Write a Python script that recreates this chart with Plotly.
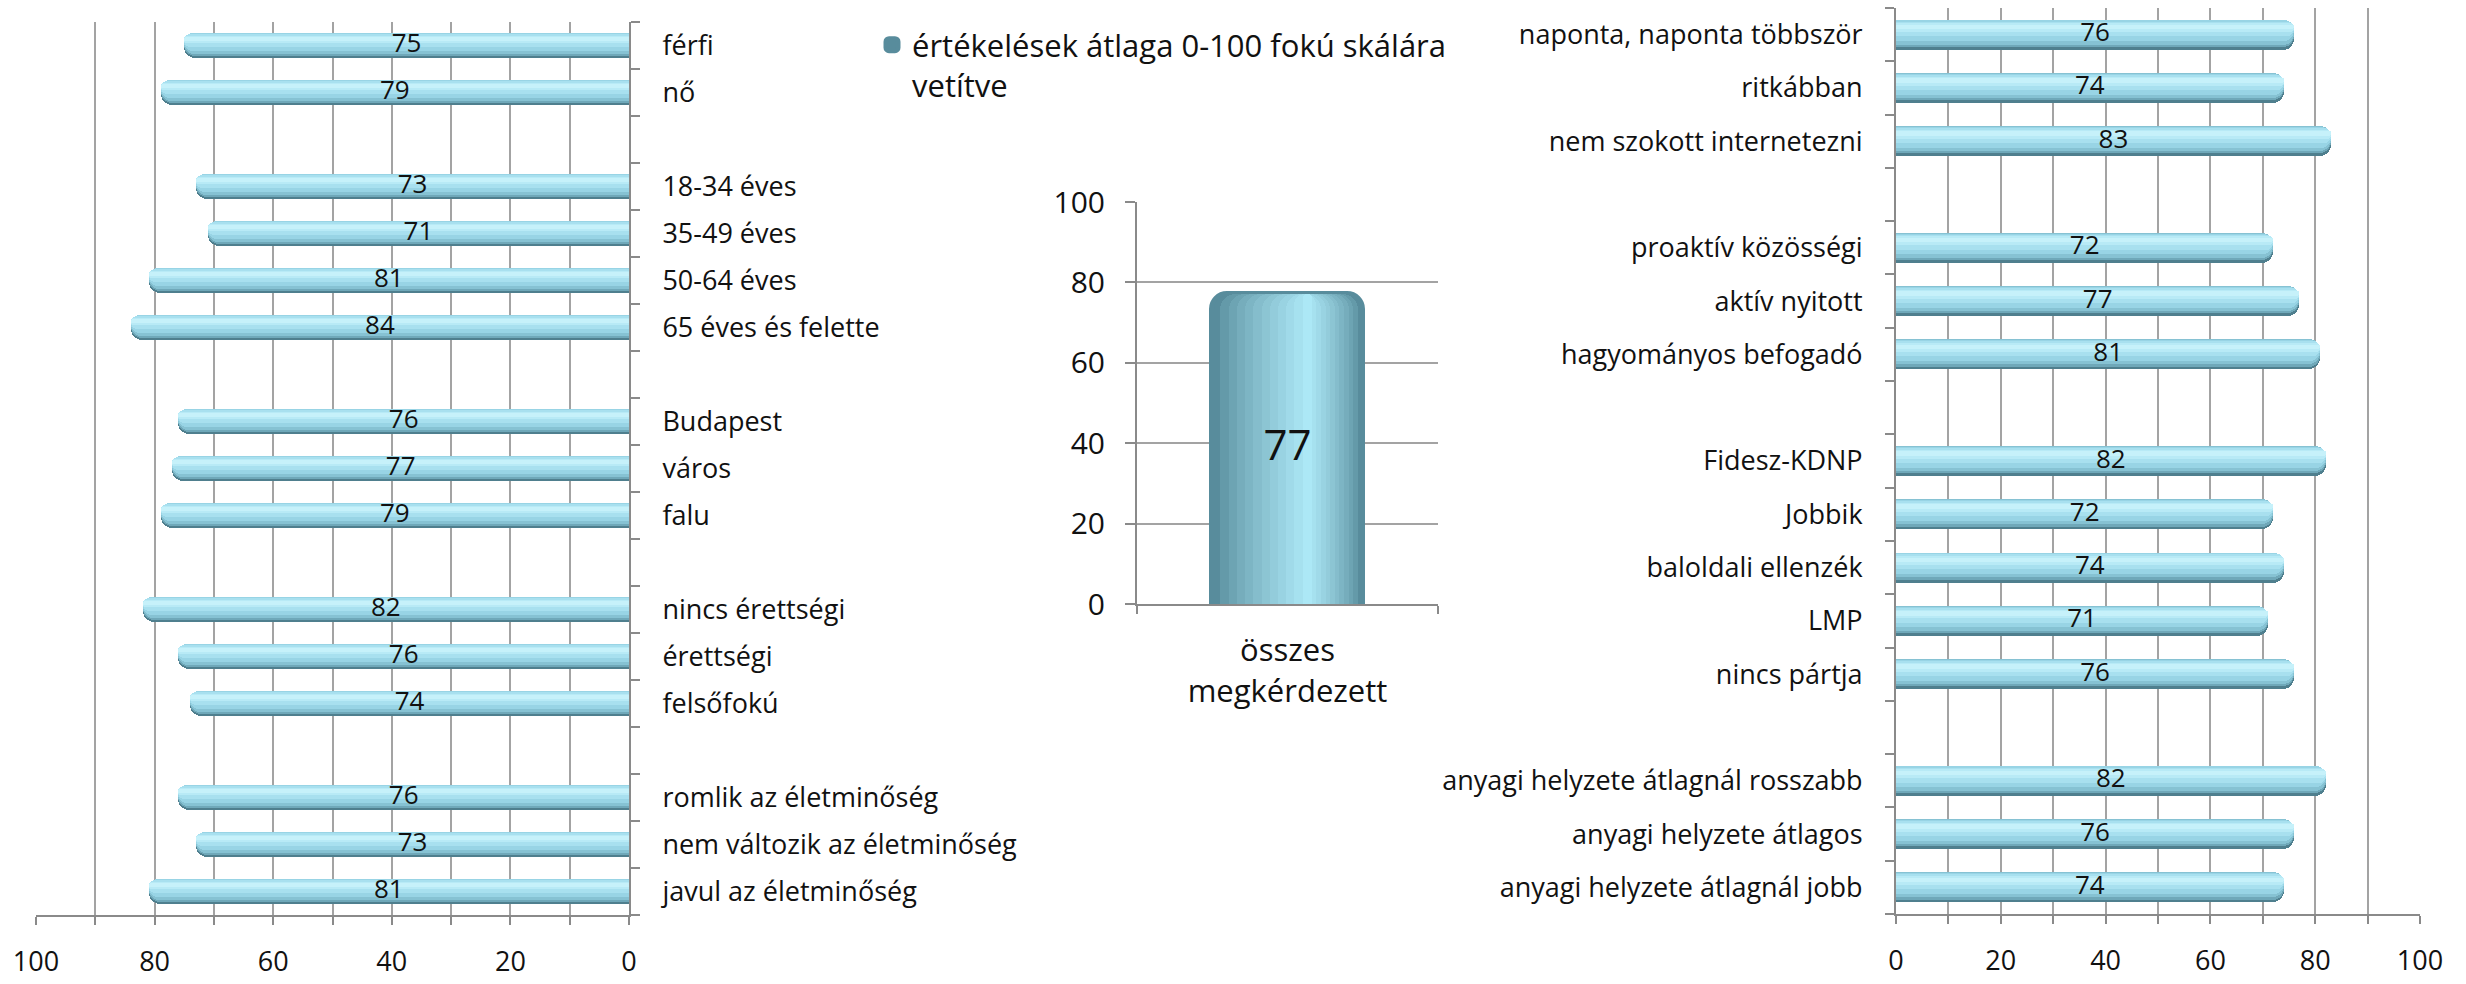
import plotly.graph_objects as go

# ---- data -------------------------------------------------------------
left_labels = [
    "férfi", "nő", "",
    "18-34 éves", "35-49 éves", "50-64 éves", "65 éves és felette", "",
    "Budapest", "város", "falu", "",
    "nincs érettségi", "érettségi", "felsőfokú", "",
    "romlik az életminőség", "nem változik az életminőség", "javul az életminőség",
]
left_values = [75, 79, None, 73, 71, 81, 84, None, 76, 77, 79, None,
               82, 76, 74, None, 76, 73, 81]

right_labels = [
    "naponta, naponta többször", "ritkábban", "nem szokott internetezni", "",
    "proaktív közösségi", "aktív nyitott", "hagyományos befogadó", "",
    "Fidesz-KDNP", "Jobbik", "baloldali ellenzék", "LMP", "nincs pártja", "",
    "anyagi helyzete átlagnál rosszabb", "anyagi helyzete átlagos",
    "anyagi helyzete átlagnál jobb",
]
right_values = [76, 74, 83, None, 72, 77, 81, None, 82, 72, 74, 71, 76, None,
                82, 76, 74]

total_label = "összes<br>megkérdezett"
total_value = [77]
series_name = "értékelések átlaga 0-100 fokú skálára<br>vetítve"

x_ticks = [0, 20, 40, 60, 80, 100]

# ---- style ------------------------------------------------------------
W, H = 2466, 984
FONT = "Open Sans"
TXT = "#111111"
GRID = "#a3a3a3"
AXIS = "#8a8a8a"


def dom_x(a, b):
    return [a / W, b / W]


def dom_y(top, bottom):
    return [1 - bottom / H, 1 - top / H]


def mix(c1, c2, t):
    a = [int(c1[i:i + 2], 16) for i in (1, 3, 5)]
    b = [int(c2[i:i + 2], 16) for i in (1, 3, 5)]
    return "#" + "".join(f"{round(x + (y - x) * t):02x}" for x, y in zip(a, b))


fig = go.Figure()

# Horizontal pill bars: stacked bands from a dark lower rim up to a pale
# highlight just under the top edge, so each bar reads as a rounded rod.
# (fraction of thickness from top, fraction to bottom, colour)
ROD_BANDS = [
    (0.00, 1.00, "#4f7f8e"),
    (0.00, 0.91, "#6fa8b9"),
    (0.00, 0.83, "#86c2d3"),
    (0.02, 0.72, "#98d4e5"),
    (0.06, 0.56, "#a8e0ef"),
    (0.12, 0.42, "#b8eaf6"),
    (0.17, 0.32, "#c6f1fa"),
]


def add_hbars(xa, ya, labels, values, thick):
    pos = list(range(len(labels)))
    for top, bot, col in ROD_BANDS:
        fig.add_trace(go.Bar(
            x=values, y=pos, orientation="h",
            width=thick * (bot - top), offset=-thick / 2 + thick * top,
            marker=dict(color=col, cornerradius=11, line_width=0),
            xaxis=xa, yaxis=ya, showlegend=False, hoverinfo="skip",
        ))
    idx = [i for i, v in enumerate(values) if v is not None]
    fig.add_trace(go.Scatter(
        x=[values[i] / 2 for i in idx], y=idx,
        text=[str(values[i]) for i in idx], mode="text",
        textposition="middle center",
        textfont=dict(family=FONT, size=26, color=TXT),
        xaxis=xa, yaxis=ya, showlegend=False, hoverinfo="skip",
    ))


add_hbars("x", "y", left_labels, left_values, 0.54)
add_hbars("x3", "y3", right_labels, right_values, 0.56)

# ---- middle cylinder --------------------------------------------------
# bands narrowing towards a highlight right of centre
N = 12
CYL_DARK, CYL_LIGHT = "#588c9c", "#ace8f6"
for k in range(N):
    t = k / (N - 1)
    left = -0.25 + t * 0.30
    right = 0.25 - t * 0.17
    fig.add_trace(go.Bar(
        x=[0], y=total_value, width=right - left, offset=left,
        marker=dict(color=mix(CYL_DARK, CYL_LIGHT, t ** 0.8),
                    cornerradius=16,
                    line=dict(width=5 if k == 0 else 0, color=CYL_DARK)),
        xaxis="x2", yaxis="y2", name=series_name, showlegend=(k == 0),
        hoverinfo="skip",
    ))
fig.add_trace(go.Scatter(
    x=[0], y=[v / 2 for v in total_value], text=[str(v) for v in total_value],
    mode="text", textfont=dict(family=FONT, size=42, color=TXT),
    xaxis="x2", yaxis="y2", showlegend=False, hoverinfo="skip",
))

# ---- axes -------------------------------------------------------------
xcommon = dict(
    tickmode="array", tickvals=x_ticks, showgrid=True, gridcolor=GRID,
    gridwidth=2, zeroline=False, showline=True, linecolor=AXIS, linewidth=2,
    ticks="outside", ticklen=8, tickcolor=AXIS, tickwidth=2,
    tickfont=dict(family=FONT, size=27, color=TXT),
    ticklabelstandoff=14, automargin=False,
    minor=dict(dtick=10, tick0=0, showgrid=True, gridcolor=GRID, gridwidth=2,
               ticks="outside", ticklen=8, tickcolor=AXIS, tickwidth=2),
    fixedrange=True,
)


def ycat(labels, side):
    n = len(labels)
    return dict(
        tickmode="array", tickvals=list(range(n)), ticktext=labels,
        range=[n - 0.5, -0.5], showgrid=False, zeroline=False,
        showline=True, linecolor=AXIS, linewidth=2, side=side,
        ticks="", tickfont=dict(family=FONT, size=27, color=TXT),
        ticklabelstandoff=26, automargin=False,
        minor=dict(tick0=0.5, dtick=1, ticks="outside", ticklen=9,
                   tickcolor=AXIS, tickwidth=2, showgrid=False),
        fixedrange=True,
    )


fig.update_layout(
    width=W, height=H, margin=dict(l=0, r=0, t=0, b=0, autoexpand=False),
    paper_bgcolor="white", plot_bgcolor="white",
    barmode="overlay", bargap=0,
    font=dict(family=FONT, color=TXT),
    xaxis=dict(xcommon, domain=dom_x(36, 629), range=[100, 0], anchor="y"),
    yaxis=dict(ycat(left_labels, "right"), domain=dom_y(22, 915), anchor="x"),
    xaxis3=dict(xcommon, domain=dom_x(1896, 2420), range=[0, 100], anchor="y3"),
    yaxis3=dict(ycat(right_labels, "left"), domain=dom_y(8, 914), anchor="x3"),
    xaxis2=dict(
        domain=dom_x(1137, 1438), range=[-0.5, 0.5], anchor="y2",
        tickmode="array", tickvals=[0], ticktext=[total_label],
        showgrid=False, zeroline=False, showline=True, linecolor=AXIS,
        linewidth=2, ticks="", ticklabelstandoff=18, automargin=False,
        tickfont=dict(family=FONT, size=31, color=TXT),
        minor=dict(tickmode="array", tickvals=[-0.5, 0.5], ticks="outside",
                   ticklen=8, tickcolor=AXIS, tickwidth=2, showgrid=False),
        fixedrange=True,
    ),
    yaxis2=dict(
        domain=dom_y(202, 604), range=[0, 100], anchor="x2",
        tickmode="array", tickvals=x_ticks, showgrid=True, gridcolor=GRID,
        gridwidth=2, zeroline=False, showline=True, linecolor=AXIS,
        linewidth=2, ticks="outside", ticklen=10, tickcolor=AXIS,
        tickwidth=2, ticklabelstandoff=14, automargin=False,
        tickfont=dict(family=FONT, size=30, color=TXT),
        fixedrange=True,
    ),
    legend=dict(
        x=872 / W, y=1 - 18 / H, xanchor="left", yanchor="top",
        font=dict(family=FONT, size=31, color=TXT),
        bgcolor="rgba(0,0,0,0)", valign="top", itemwidth=30,
        tracegroupgap=0,
    ),
    showlegend=True,
)

fig.write_html("out.html")
